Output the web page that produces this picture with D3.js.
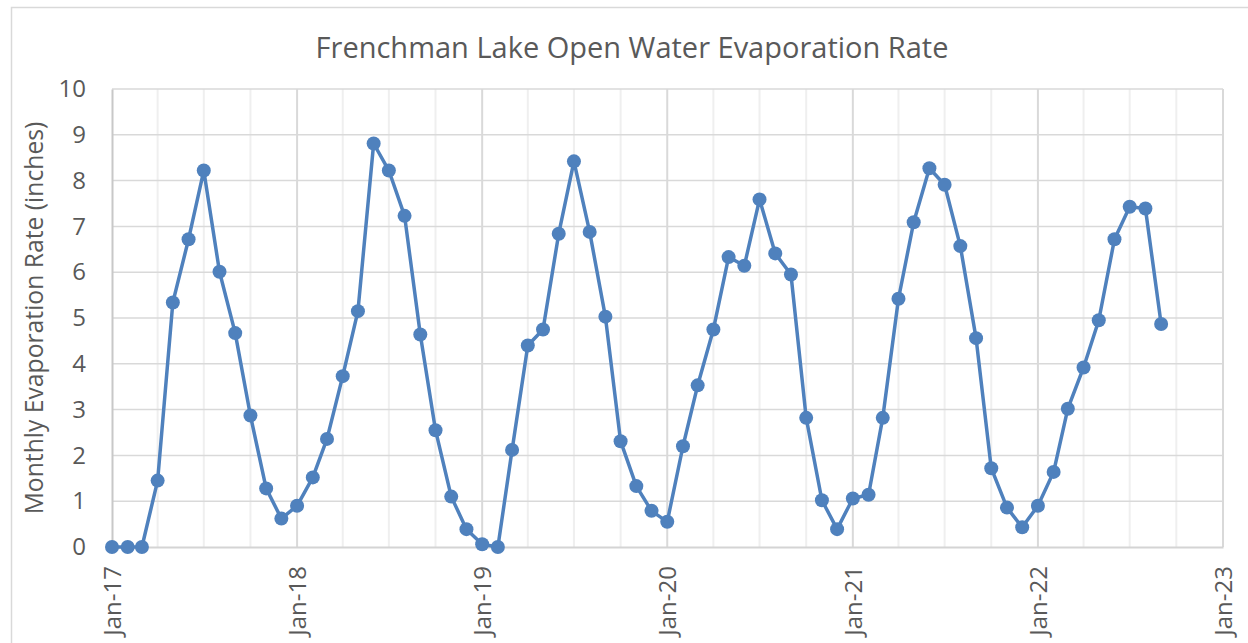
<!DOCTYPE html>
<html>
<head>
<meta charset="utf-8">
<script src="https://cdn.jsdelivr.net/npm/d3@7"></script>
<style>
  body { margin: 0; background: #fff; }
  svg { display: block; }
  text { font-family: "Open Sans", sans-serif; fill: #595959; }
</style>
</head>
<body>
<svg id="chart" width="1248" height="643"></svg>
<script>
// monthly evaporation, Jan-17 .. Sep-22
const startMonth = "2017-01";
const evap = [
  0, 0, 0, 1.45, 5.34, 6.72, 8.22, 6.01, 4.67, 2.87, 1.28, 0.62,
  0.9, 1.52, 2.36, 3.73, 5.15, 8.81, 8.22, 7.23, 4.64, 2.55, 1.1, 0.39,
  0.06, 0, 2.12, 4.4, 4.75, 6.84, 8.42, 6.88, 5.03, 2.31, 1.33, 0.79,
  0.55, 2.2, 3.53, 4.75, 6.33, 6.14, 7.59, 6.41, 5.95, 2.82, 1.02, 0.39,
  1.06, 1.14, 2.82, 5.42, 7.09, 8.27, 7.91, 6.57, 4.56, 1.72, 0.86, 0.43,
  0.9, 1.64, 3.02, 3.92, 4.95, 6.72, 7.43, 7.39, 4.87
];
const xTickLabels = ["Jan-17", "Jan-18", "Jan-19", "Jan-20", "Jan-21", "Jan-22", "Jan-23"];
const yTicks = [0, 1, 2, 3, 4, 5, 6, 7, 8, 9, 10];
const title = "Frenchman Lake Open Water Evaporation Rate";
const yTitle = "Monthly Evaporation Rate (inches)";

const parseMonth = d3.timeParse("%Y-%m");
const fmt = d3.timeFormat("%b-%y");
const t0 = parseMonth(startMonth);
const data = evap.map((v, i) => ({ date: d3.timeMonth.offset(t0, i), value: v }));

const plot = { left: 112, right: 1223, top: 89, bottom: 547 };
const svg = d3.select("#chart");

// outer chart border
svg.append("rect")
  .attr("x", 11.5).attr("y", 7.5)
  .attr("width", 1260).attr("height", 660)
  .attr("fill", "#fff").attr("stroke", "#d9d9d9").attr("stroke-width", 1.5);

const x = d3.scaleTime()
  .domain([parseMonth("2017-01"), parseMonth("2023-01")])
  .range([plot.left, plot.right]);
const y = d3.scaleLinear().domain([0, 10]).range([plot.bottom, plot.top]);

// minor vertical grid every 3 months
const minor = d3.timeMonth.every(3).range(x.domain()[0], x.domain()[1]).filter(d => d.getMonth() !== 0);
svg.append("g").selectAll("line").data(minor).enter().append("line")
  .attr("x1", d => x(d)).attr("x2", d => x(d))
  .attr("y1", plot.top).attr("y2", plot.bottom)
  .attr("stroke", "#efefef").attr("stroke-width", 2);

// horizontal grid
svg.append("g").selectAll("line").data(yTicks.filter(d => d > 0)).enter().append("line")
  .attr("x1", plot.left).attr("x2", plot.right)
  .attr("y1", d => y(d)).attr("y2", d => y(d))
  .attr("stroke", "#d9d9d9").attr("stroke-width", 1.5);

// major vertical grid (years)
const years = d3.timeYear.range(parseMonth("2018-01"), parseMonth("2023-02"));
svg.append("g").selectAll("line").data(years).enter().append("line")
  .attr("x1", d => x(d)).attr("x2", d => x(d))
  .attr("y1", plot.top).attr("y2", plot.bottom)
  .attr("stroke", "#d9d9d9").attr("stroke-width", 2);

// axes
const yAxis = svg.append("g")
  .attr("transform", `translate(${plot.left},0)`)
  .call(d3.axisLeft(y).tickValues(yTicks).tickSize(0).tickPadding(26));
yAxis.select(".domain").attr("stroke", "#c8c8c8").attr("stroke-width", 2);
yAxis.selectAll("text").style("font-size", "24px").attr("fill", "#595959")
  .attr("font-family", "Open Sans");

const xAxis = svg.append("g")
  .attr("transform", `translate(0,${plot.bottom})`)
  .call(d3.axisBottom(x).tickValues(d3.timeYear.range(parseMonth("2017-01"), parseMonth("2023-02")))
    .tickFormat(fmt).tickSize(0));
xAxis.select(".domain").attr("stroke", "#d4d4d4").attr("stroke-width", 2);
xAxis.selectAll("text")
  .style("font-size", "24px").attr("fill", "#595959").attr("font-family", "Open Sans")
  .attr("text-anchor", "end")
  .attr("transform", "rotate(-90)")
  .attr("x", -19).attr("y", 0).attr("dy", "0.36em");

// series
const line = d3.line().x(d => x(d.date)).y(d => y(d.value));
svg.append("path").datum(data)
  .attr("d", line)
  .attr("fill", "none").attr("stroke", "#4f81bd").attr("stroke-width", 3.5)
  .attr("stroke-linejoin", "round");
svg.append("g").selectAll("circle").data(data).enter().append("circle")
  .attr("cx", d => x(d.date)).attr("cy", d => y(d.value))
  .attr("r", 7).attr("fill", "#4f81bd");

// titles
const tt = svg.append("text")
  .attr("x", 632).attr("y", 58)
  .attr("text-anchor", "middle")
  .style("font-size", "26px")
  .text(title);
// fit to the width seen in the reference
let w = tt.node().getComputedTextLength();
tt.style("font-size", (26 * 632 / w).toFixed(1) + "px");

const yt = svg.append("text")
  .attr("transform", `translate(43,${(plot.top + plot.bottom) / 2}) rotate(-90)`)
  .attr("text-anchor", "middle")
  .style("font-size", "22px")
  .text(yTitle);
w = yt.node().getComputedTextLength();
yt.style("font-size", (22 * 393 / w).toFixed(1) + "px");
</script>
</body>
</html>
